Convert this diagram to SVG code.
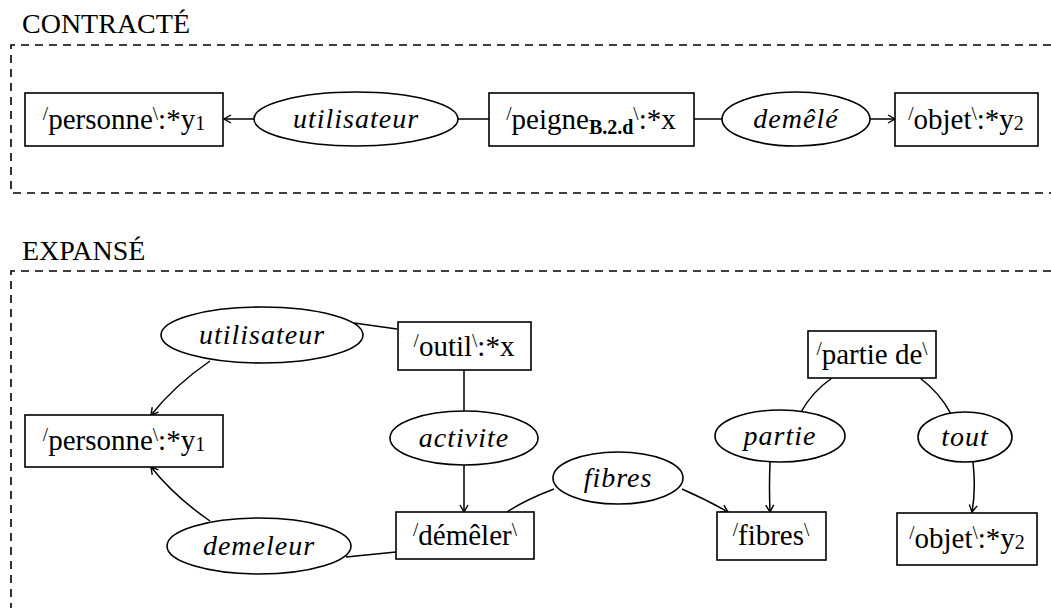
<svg xmlns="http://www.w3.org/2000/svg" width="1051" height="608" viewBox="0 0 1051 608">
<style>
text{font-family:"Liberation Serif","Times New Roman",serif;font-size:28px;fill:#000}
.t{text-anchor:middle;font-size:29px}
.it{font-style:italic;letter-spacing:1px;text-anchor:middle}
.sl{font-size:19px}
.sub{font-size:20px}
.bsub{font-size:20px;font-weight:bold}
rect,ellipse{fill:#fff;stroke:#000;stroke-width:1.6}
.dash{fill:none;stroke:#000;stroke-width:1.6;stroke-dasharray:8 6}
.c path,.c line{fill:none;stroke:#000;stroke-width:1.5}
</style>
<defs>
<marker id="ar" markerWidth="10" markerHeight="10" refX="8" refY="5" orient="auto" markerUnits="userSpaceOnUse">
<path d="M1,1 L8,5 L1,9" fill="none" stroke="#000" stroke-width="1.4"/>
</marker>
</defs>
<text x="22" y="33">CONTRACTÉ</text>
<path class="dash" d="M1051,45 H11 V193 H1051"/>
<text x="22" y="260">EXPANSÉ</text>
<path class="dash" d="M1051,271 H11 V608"/>

<g class="c" id="connectors">
<line x1="254" y1="119" x2="224" y2="119" marker-end="url(#ar)"/>
<line x1="458" y1="119" x2="489" y2="119"/>
<line x1="694" y1="119" x2="722" y2="119"/>
<line x1="870" y1="119" x2="895" y2="119" marker-end="url(#ar)"/>

<path d="M354,323 L397,329"/>
<path d="M210,361 Q175,385 151,415" marker-end="url(#ar)"/>
<path d="M210,521 Q175,497 151,467" marker-end="url(#ar)"/>
<path d="M346,557 L396,552"/>
<line x1="464" y1="370" x2="464" y2="411"/>
<line x1="464" y1="465" x2="464" y2="512" marker-end="url(#ar)"/>
<path d="M554,489 Q525,500 507,512"/>
<path d="M682,489 Q707,500 728,512" marker-end="url(#ar)"/>
<path d="M832,378 Q812,392 801,412"/>
<path d="M920,378 Q940,393 951,414"/>
<path d="M770,462 Q769,488 770,512" marker-end="url(#ar)"/>
<path d="M973,462 Q976,490 972,512" marker-end="url(#ar)"/>
</g>

<g id="c-personne"><rect x="25" y="93" width="198" height="53"/>
<text class="t" x="124" y="129"><tspan class="sl" dy="-9">/</tspan><tspan dy="9">personne</tspan><tspan class="sl" dy="-9">\</tspan><tspan dy="9">:*y</tspan><tspan class="sub" dy="1">1</tspan></text></g>
<g id="c-utilisateur"><ellipse cx="356" cy="119" rx="102" ry="27"/><text class="it" x="356" y="128">utilisateur</text></g>
<g id="c-peigne"><rect x="489" y="93" width="205" height="53"/>
<text class="t" x="591" y="129"><tspan class="sl" dy="-9">/</tspan><tspan dy="9">peigne</tspan><tspan class="bsub" dy="5">B.2.d</tspan><tspan class="sl" dy="-14">\</tspan><tspan dy="9">:*x</tspan></text></g>
<g id="c-demele"><ellipse cx="796" cy="119" rx="74" ry="27"/><text class="it" x="796" y="128">demêlé</text></g>
<g id="c-objet"><rect x="895" y="93" width="143" height="53"/>
<text class="t" x="966" y="129"><tspan class="sl" dy="-9">/</tspan><tspan dy="9">objet</tspan><tspan class="sl" dy="-9">\</tspan><tspan dy="9">:*y</tspan><tspan class="sub" dy="1">2</tspan></text></g>

<g id="e-utilisateur"><ellipse cx="262" cy="335" rx="101" ry="28"/><text class="it" x="262" y="344">utilisateur</text></g>
<g id="e-outil"><rect x="398" y="322" width="133" height="48"/>
<text class="t" x="464" y="356"><tspan class="sl" dy="-9">/</tspan><tspan dy="9">outil</tspan><tspan class="sl" dy="-9">\</tspan><tspan dy="9">:*x</tspan></text></g>
<g id="e-personne"><rect x="25" y="415" width="198" height="52"/>
<text class="t" x="124" y="450"><tspan class="sl" dy="-9">/</tspan><tspan dy="9">personne</tspan><tspan class="sl" dy="-9">\</tspan><tspan dy="9">:*y</tspan><tspan class="sub" dy="1">1</tspan></text></g>
<g id="e-activite"><ellipse cx="464" cy="438" rx="74" ry="27"/><text class="it" x="464" y="447">activite</text></g>
<g id="e-fibres-rel"><ellipse cx="618" cy="478" rx="65" ry="26"/><text class="it" x="618" y="487">fibres</text></g>
<g id="e-demeleur"><ellipse cx="259" cy="546" rx="92" ry="28"/><text class="it" x="259" y="555">demeleur</text></g>
<g id="e-demeler"><rect x="396" y="512" width="138" height="47"/>
<text class="t" x="465" y="545"><tspan class="sl" dy="-9">/</tspan><tspan dy="9">démêler</tspan><tspan class="sl" dy="-9">\</tspan></text></g>
<g id="e-partiede"><rect x="808" y="331" width="128" height="47"/>
<text class="t" x="872" y="364"><tspan class="sl" dy="-9">/</tspan><tspan dy="9">partie de</tspan><tspan class="sl" dy="-9">\</tspan></text></g>
<g id="e-partie"><ellipse cx="780" cy="436" rx="65" ry="26"/><text class="it" x="780" y="445">partie</text></g>
<g id="e-tout"><ellipse cx="965" cy="437" rx="47" ry="25"/><text class="it" x="965" y="446">tout</text></g>
<g id="e-fibres"><rect x="717" y="512" width="109" height="48"/>
<text class="t" x="771" y="545"><tspan class="sl" dy="-9">/</tspan><tspan dy="9">fibres</tspan><tspan class="sl" dy="-9">\</tspan></text></g>
<g id="e-objet"><rect x="897" y="513" width="140" height="52"/>
<text class="t" x="967" y="548"><tspan class="sl" dy="-9">/</tspan><tspan dy="9">objet</tspan><tspan class="sl" dy="-9">\</tspan><tspan dy="9">:*y</tspan><tspan class="sub" dy="1">2</tspan></text></g>
</svg>
